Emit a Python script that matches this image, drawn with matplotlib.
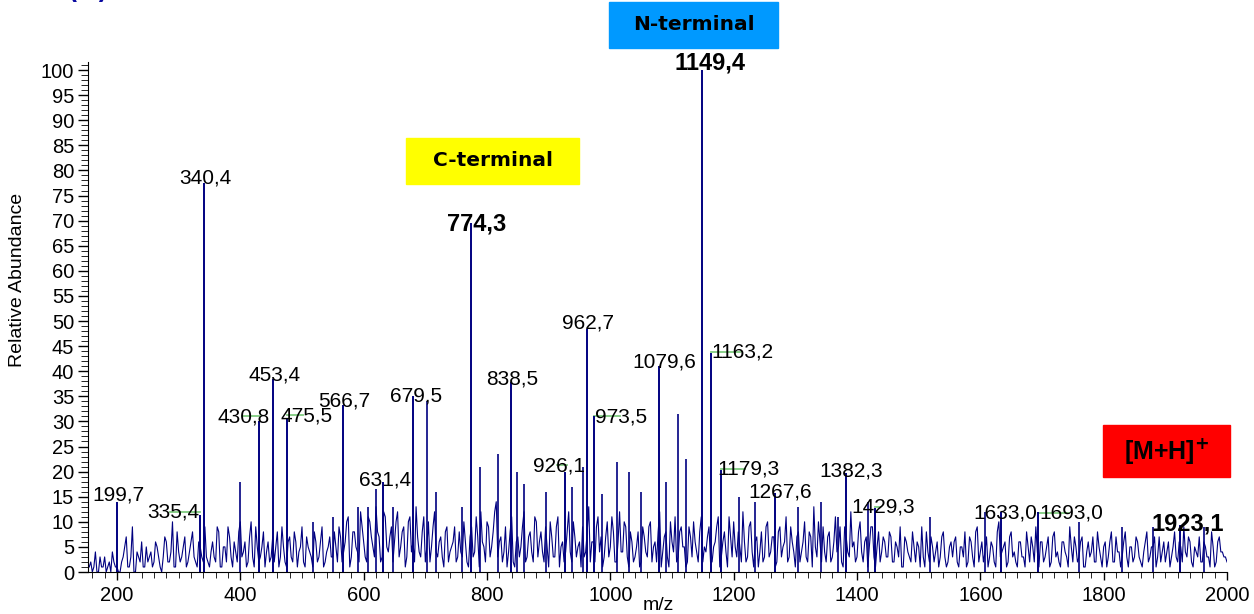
import numpy as np
import matplotlib.pyplot as plt
from matplotlib.patches import Rectangle
from matplotlib.ticker import MultipleLocator

plt.rcParams['font.family'] = ['Liberation Sans', 'DejaVu Sans']

# baseline noise, m/z 155..2000 every 5
mz_start, mz_step = 155, 5
noise = [
    1, 0, 4, 0, 1, 3, 1, 0, 2, 1, 0, 3, 7, 1, 9, 0, 3, 6, 1, 2,
    4, 2, 5, 1, 3, 6, 2, 10, 1, 4, 3, 7, 2, 6, 3, 1, 5, 2, 3, 1,
    6, 2, 8, 1, 5, 9, 3, 6, 2, 10, 4, 1, 7, 3, 9, 2, 5, 1, 6, 3,
    2, 8, 3, 5, 1, 7, 2, 6, 4, 9, 1, 5, 3, 8, 2, 6, 1, 4, 7, 3,
    5, 9, 2, 6, 11, 3, 8, 4, 12, 6, 2, 10, 5, 13, 7, 3, 11, 4, 9, 6,
    12, 5, 9, 3, 11, 6, 13, 4, 8, 2, 10, 5, 12, 3, 7, 1, 9, 4, 6, 2,
    8, 3, 6, 1, 9, 4, 7, 12, 5, 10, 3, 8, 14, 6, 2, 9, 4, 11, 1, 7,
    5, 12, 3, 8, 2, 10, 6, 4, 9, 1, 7, 3, 11, 5, 2, 8, 4, 10, 3, 6,
    9, 4, 13, 6, 2, 11, 7, 3, 10, 5, 8, 2, 12, 4, 9, 1, 6, 3, 8, 2,
    7, 3, 10, 5, 2, 12, 4, 8, 1, 6, 11, 3, 9, 5, 2, 7, 10, 4, 8, 2,
    4, 9, 2, 6, 11, 3, 8, 1, 7, 10, 3, 5, 12, 2, 9, 4, 6, 1, 8, 3,
    10, 4, 7, 2, 9, 5, 11, 3, 6, 1, 8, 4, 10, 2, 7, 13, 3, 6, 9, 2,
    8, 3, 11, 5, 2, 9, 4, 12, 6, 3, 10, 2, 7, 5, 9, 1, 8, 4, 6, 3,
    7, 2, 5, 9, 1, 6, 3, 8, 2, 5, 9, 1, 4, 7, 2, 6, 3, 8, 1, 5,
    3, 7, 1, 5, 8, 2, 6, 1, 9, 4, 2, 7, 3, 5, 1, 10, 4, 6, 2, 8,
    4, 1, 6, 3, 8, 2, 5, 9, 1, 6, 3, 7, 2, 8, 4, 1, 6, 3, 9, 2,
    5, 3, 7, 1, 6, 4, 2, 8, 3, 5, 1, 6, 2, 7, 4, 3, 8, 1, 5, 3,
    6, 2, 4, 8, 3, 5, 1, 7, 4, 2, 6, 3, 8, 2, 5, 9, 3, 6, 1, 4,
    7, 2, 5, 3, 8, 1, 6, 4, 3, 2,
]
# in-between samples, m/z 157.5..1997.5 every 5
noise_half = [
    2, 1, 0, 3, 1, 0, 2, 4, 1, 0, 2, 5, 1, 3, 0, 4, 2, 1, 5, 3,
    1, 6, 3, 0, 7, 2, 4, 1, 8, 2, 5, 1, 4, 8, 2, 6, 3, 9, 2, 4,
    3, 9, 1, 5, 2, 7, 1, 4, 8, 3, 6, 2, 10, 1, 5, 3, 8, 4, 2, 7,
    5, 1, 9, 2, 6, 3, 8, 1, 5, 2, 7, 4, 1, 6, 3, 9, 2, 5, 3, 8,
    2, 7, 4, 10, 1, 8, 5, 2, 9, 3, 11, 7, 3, 8, 2, 12, 5, 7, 2, 10,
    3, 8, 1, 10, 4, 2, 7, 3, 11, 5, 2, 9, 4, 6, 3, 8, 2, 5, 9, 3,
    4, 10, 2, 7, 3, 11, 1, 6, 2, 9, 5, 12, 3, 7, 4, 1, 8, 2, 6, 3,
    9, 2, 7, 4, 11, 3, 8, 2, 5, 10, 3, 9, 1, 6, 4, 12, 2, 7, 5, 1,
    3, 8, 2, 6, 9, 4, 1, 7, 3, 11, 2, 6, 4, 10, 3, 8, 2, 5, 1, 9,
    4, 9, 2, 6, 8, 1, 7, 3, 10, 4, 2, 8, 5, 1, 9, 3, 6, 2, 11, 5,
    7, 2, 5, 9, 1, 6, 4, 11, 3, 5, 8, 2, 6, 3, 10, 1, 7, 4, 2, 9,
    3, 7, 1, 8, 3, 6, 2, 9, 4, 7, 2, 6, 3, 8, 1, 5, 10, 2, 4, 7,
    2, 6, 4, 9, 1, 7, 3, 5, 2, 8, 4, 6, 1, 9, 3, 5, 2, 7, 3, 8,
    2, 6, 3, 1, 7, 4, 2, 5, 6, 1, 3, 8, 2, 5, 4, 1, 7, 3, 2, 6,
    6, 2, 5, 3, 1, 7, 3, 8, 2, 6, 4, 1, 6, 2, 8, 3, 5, 1, 7, 3,
    2, 6, 3, 1, 5, 7, 2, 4, 6, 2, 5, 1, 7, 3, 2, 6, 4, 1, 5, 7,
    2, 6, 1, 4, 3, 7, 2, 5, 1, 6, 3, 8, 2, 4, 1, 6, 3, 5, 2, 7,
    3, 1, 6, 2, 5, 7, 3, 2, 6, 4, 1, 5, 3, 6, 2, 4, 7, 2, 5, 3,
    2, 6, 3, 1, 5, 2, 7, 4, 3,
]

# labelled peaks
peak_mz = [199.7, 335.4, 340.4, 430.8, 453.4, 475.5, 566.7, 631.4, 679.5,
           774.3, 838.5, 926.1, 962.7, 973.5, 1079.6, 1149.4, 1163.2,
           1179.3, 1267.6, 1382.3, 1429.3, 1633.0, 1693.0, 1923.1]
peak_int = [14, 11.3, 77.5, 30, 38.5, 30.5, 33.3, 18, 35,
            69.5, 37.8, 20, 48.5, 31, 41, 100, 43.6,
            20.3, 15.8, 19.7, 12.7, 12, 12, 9.4]
peak_text = ['199,7', '335,4', '340,4', '430,8', '453,4', '475,5', '566,7',
             '631,4', '679,5', '774,3', '838,5', '926,1', '962,7', '973,5',
             '1079,6', '1149,4', '1163,2', '1179,3', '1267,6', '1382,3',
             '1429,3', '1633,0', '1693,0', '1923,1']
bold_text = ['774,3', '1149,4', '1923,1']

# other visible peaks without labels
minor_mz = [400, 518, 551, 591, 607, 620, 648, 702, 718, 760, 788, 818, 849,
            860, 896, 938, 955, 987, 1011, 1031, 1050, 1091, 1110, 1122,
            1209, 1234, 1305, 1341, 1370, 1418, 1519, 1607, 1760, 1830,
            1880, 1962]
minor_int = [18, 10, 11, 13, 13, 16.5, 13, 34, 16, 13, 21, 23.5, 20,
             17.5, 16, 17, 21, 15.5, 22, 20, 16, 18, 31.5, 22.5,
             15, 14, 13, 14, 11, 14, 11, 12, 10, 9, 9, 9]

# label placement (data coords) and green leader lines (y, x0, x1)
label_xy = [(203, 15.3), (291, 12.0), (343, 78.5), (406, 30.9), (456, 39.2),
            (507, 31.1), (568, 34.1), (635, 18.3), (685, 35.1), (783, 69.3),
            (841, 38.4), (916, 21.1), (964, 49.6), (1018, 30.9), (1088, 41.8),
            (1162, 101.4), (1214, 43.8), (1224, 20.5), (1276, 15.9),
            (1390, 20.1), (1442, 12.9), (1641, 11.8), (1747, 11.8),
            (1937, 9.6)]
leaders = [(12.0, 286, 335), (31.1, 403, 432), (31.3, 476, 502),
           (21.3, 914, 929), (31.1, 974, 1015), (43.8, 1163, 1211),
           (20.5, 1180, 1219), (12.9, 1430, 1438), (11.8, 1693, 1743)]

mz_a = mz_start + mz_step * np.arange(len(noise))
mz_b = mz_start + mz_step / 2 + mz_step * np.arange(len(noise_half))
mz_all = np.concatenate([mz_a, mz_b])
int_all = np.concatenate([noise, noise_half])
order = np.argsort(mz_all)

W, H = 1254, 614
fig = plt.figure(figsize=(W / 100, H / 100), dpi=100)
ax = fig.add_axes([88 / W, 42 / H, (1227 - 88) / W, (572 - 62) / H])

navy = '#000080'
ax.plot(mz_all[order], int_all[order], color=navy, lw=0.8)
ax.vlines(minor_mz, 0, minor_int, color=navy, lw=1.2)
ax.vlines(peak_mz, 0, peak_int, color=navy, lw=1.4)

for y, x0, x1 in leaders:
    ax.plot([x0, x1], [y, y], color='#80cc80', lw=1.3, zorder=1)

for t, (x, y) in zip(peak_text, label_xy):
    if t in bold_text:
        ax.text(x, y, t, ha='center', va='center', fontsize=17,
                fontweight='bold')
    else:
        ax.text(x, y, t, ha='center', va='center', fontsize=15)

ax.set_xlim(153, 2000)
ax.set_ylim(0, 101.6)
ax.xaxis.set_major_locator(MultipleLocator(200))
ax.xaxis.set_minor_locator(MultipleLocator(20))
ax.yaxis.set_major_locator(MultipleLocator(5))
ax.yaxis.set_minor_locator(MultipleLocator(1))
ax.tick_params(labelsize=14.5, direction='out', width=1)
ax.tick_params(axis='y', which='major', length=7, pad=3)
ax.tick_params(axis='y', which='minor', length=5)
ax.tick_params(axis='x', which='major', length=6, pad=4)
ax.tick_params(axis='x', which='minor', length=4)
for s in ['top', 'right']:
    ax.spines[s].set_visible(False)

fig.text(18 / W, 1 - 280 / H, 'Relative Abundance', rotation=90,
         ha='center', va='center', fontsize=14)
fig.text(658 / W, 1 - 606 / H, 'm/z', ha='center', va='center', fontsize=14)

# coloured tag boxes
def tag(x0, y0, x1, y1, color, text, family, size):
    fig.patches.append(Rectangle((x0 / W, 1 - y1 / H), (x1 - x0) / W,
                                 (y1 - y0) / H, transform=fig.transFigure,
                                 color=color, zorder=0))
    fig.text((x0 + x1) / 2 / W, 1 - (y0 + y1) / 2 / H, text, ha='center',
             va='center', fontsize=size, fontweight='bold', family=family)

tag(609, 2, 778, 48, '#0099ff', 'N-terminal', 'DejaVu Sans', 14.5)
tag(406, 138, 579, 184, '#ffff00', 'C-terminal', 'DejaVu Sans', 14.5)
tag(1103, 425, 1230, 477, '#ff0000', r'[M+H]$^{\mathbf{+}}$',
    'Liberation Sans', 18)

# panel letter, mostly above the top edge as in the original
fig.text(88 / W, 1 + 1.5 / H, '(A)', ha='center', va='baseline',
         fontsize=17, fontweight='bold', color='#0a0aa0', family='DejaVu Sans')

fig.savefig('out.png', dpi=100)
